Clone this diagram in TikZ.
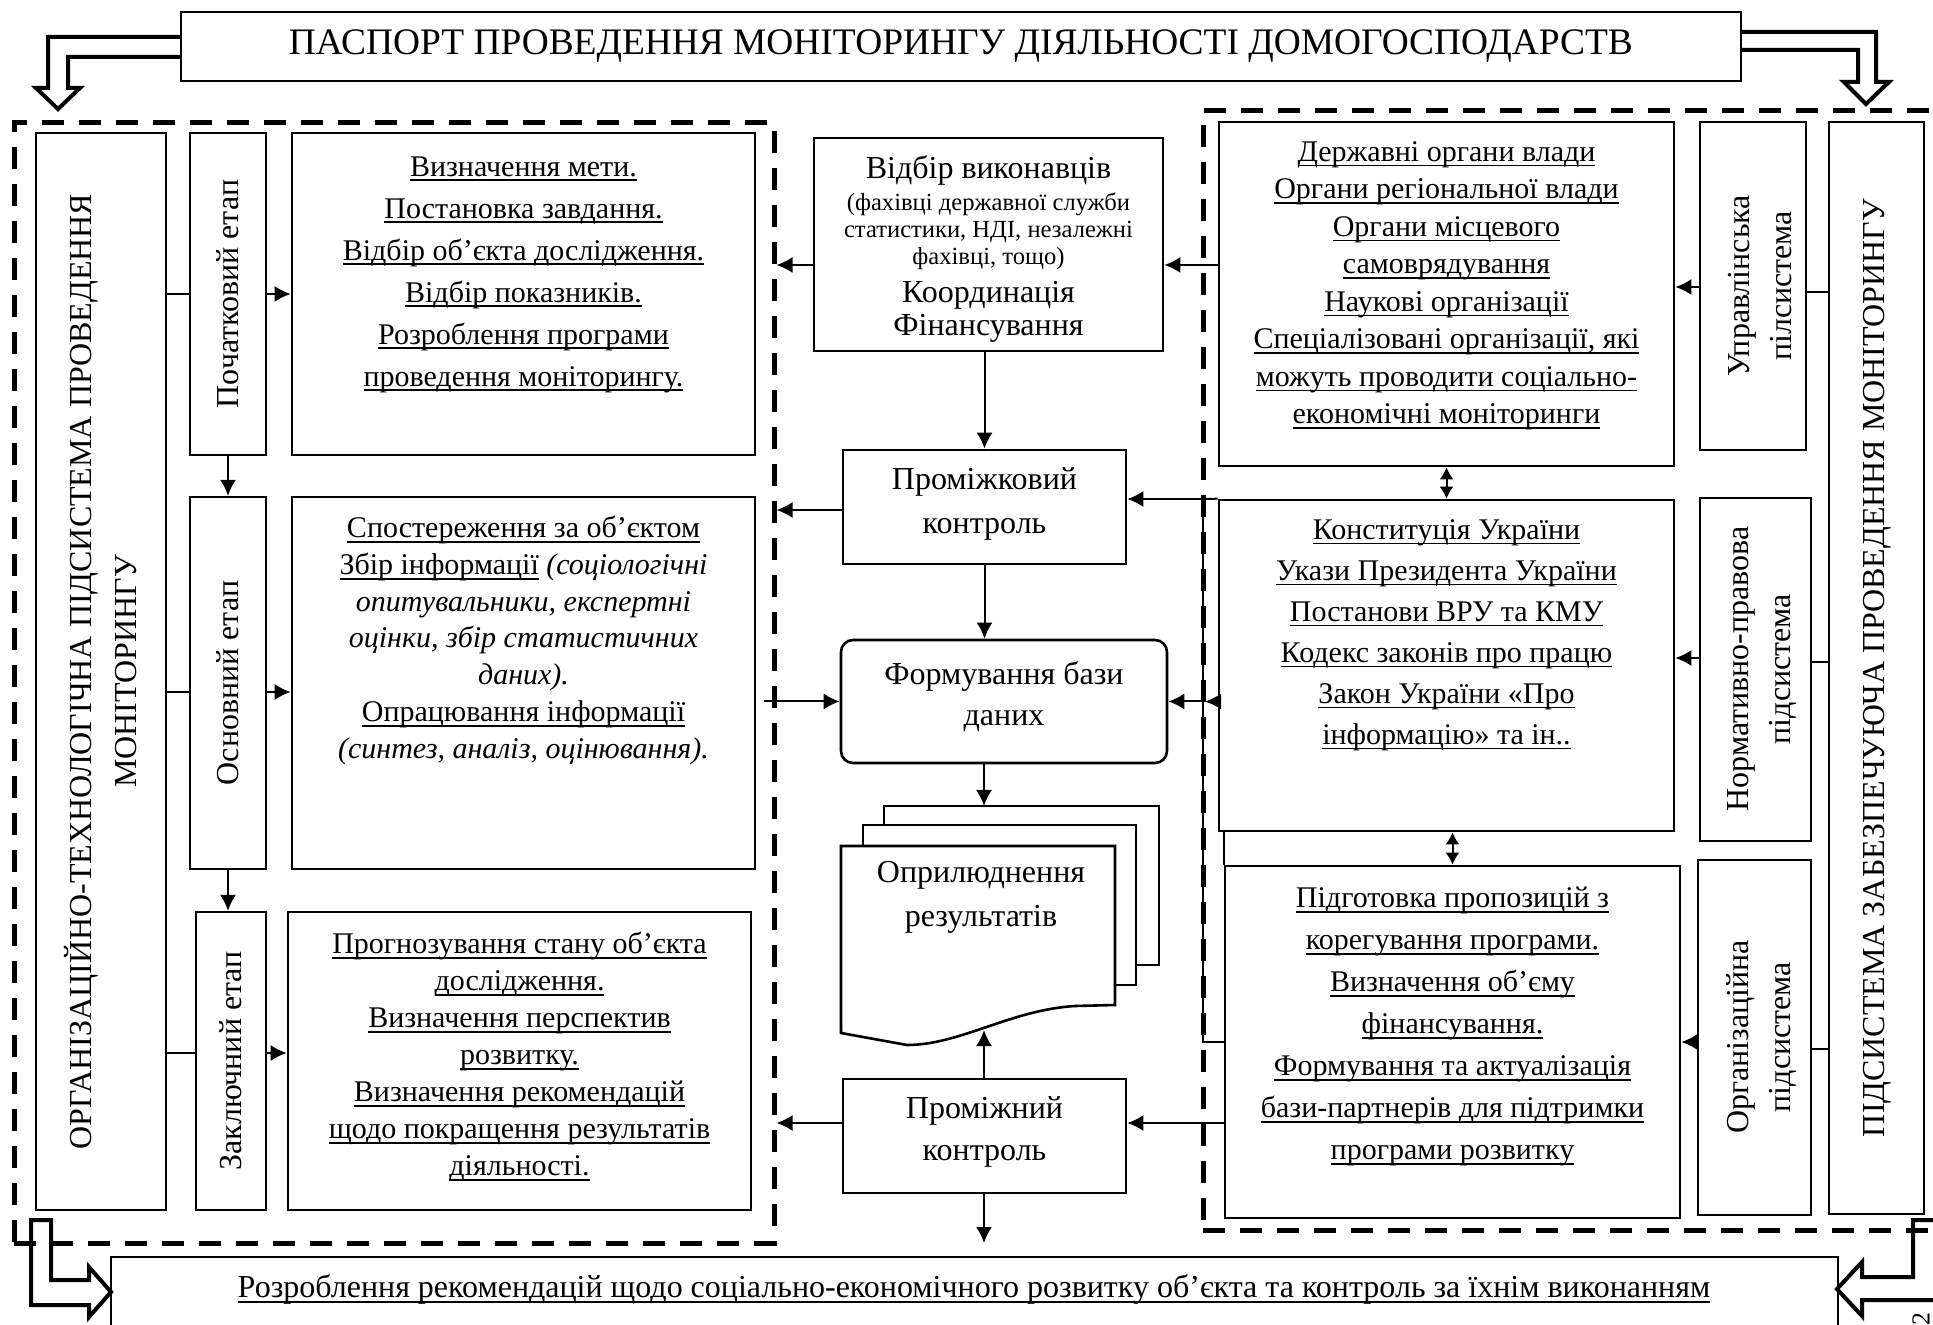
\documentclass[tikz,border=0pt]{standalone}
\usepackage{fontspec}
\setmainfont{Liberation Serif}
\usetikzlibrary{arrows.meta, fit}

% underlined line of text
\newsavebox{\ulnbox}
\newcommand{\uln}[1]{\sbox{\ulnbox}{#1}\rlap{\rule[-2.6pt]{\wd\ulnbox}{0.9pt}}\usebox{\ulnbox}}

\tikzset{
  box/.style    = {draw, line width=1.3pt, inner sep=0pt},
  stage/.style  = {draw, line width=1.1pt, inner sep=0pt},
  group/.style  = {draw, line width=2.5pt, dash pattern=on 11pt off 7.5pt, inner sep=0pt},
  plain/.style  = {line width=1pt},
  link/.style   = {line width=1pt, -{Latex[length=8pt, width=8pt]}},
  twoway/.style = {line width=1pt, {Latex[length=6pt, width=7pt]}-{Latex[length=6pt, width=7pt]}},
  hollow/.style = {line width=2pt, line join=miter},
  body/.style   = {align=center, inner sep=0pt, anchor=north, font=\fontsize{15}{21}\selectfont},
  mid/.style    = {align=center, inner sep=0pt, anchor=north, font=\fontsize{16}{22}\selectfont},
  side/.style   = {align=center, inner sep=0pt, rotate=90, font=\fontsize{16}{21}\selectfont},
}

\begin{document}
\begin{tikzpicture}[x=0.5pt, y=-0.5pt]
\useasboundingbox (0,0) rectangle (1933,1325);

% passport and the two groups
\node[box, fit={(181,12) (1741,81)}] (passport) {};
\node[inner sep=0pt, font=\fontsize{18.7}{20}\selectfont] (passporttxt) at (passport.center)
  {ПАСПОРТ ПРОВЕДЕННЯ МОНІТОРИНГУ ДІЯЛЬНОСТІ ДОМОГОСПОДАРСТВ};
\node[group, fit={(14,123) (774,1243)}] (techgrp) {};
\node[group, fit={(1203,111) (1950,1230)}] (supgrp) {};

% hollow arrows
\draw[hollow] (181,37) -- (48,37) -- (48,88) -- (36,88) -- (58,109) -- (80,88) -- (68,88)
  -- (68,57) -- (181,57);
\draw[hollow] (1741,32) -- (1876,32) -- (1876,82) -- (1889,82) -- (1866,104) -- (1844,82)
  -- (1858,82) -- (1858,50) -- (1741,50);
\draw[hollow] (31,1220) -- (51,1220) -- (51,1280) -- (89,1280) -- (89,1267) -- (111,1292)
  -- (89,1317) -- (89,1305) -- (31,1305) -- cycle;
\draw[hollow] (1940,1220) -- (1913,1220) -- (1913,1277) -- (1862,1277) -- (1862,1262)
  -- (1837,1289) -- (1862,1316) -- (1862,1300) -- (1940,1300);

% organisational and technological subsystem
\node[box, fit={(36,133) (166,1210)}] (orgsys) {};
\node[side, font=\fontsize{16}{22.5}\selectfont] (orgsystxt) at (orgsys.center)
  {ОРГАНІЗАЦІЙНО-ТЕХНОЛОГІЧНА ПІДСИСТЕМА ПРОВЕДЕННЯ\\МОНІТОРИНГУ};
\foreach \stg/\xl/\yt/\yb/\lab/\yc in {start/190/133/455/Початковий етап/294,
    core/190/497/869/Основний етап/692, final/196/912/1210/Заключний етап/1053} {
  \node[stage, fit={(\xl,\yt) (266,\yb)}] (\stg) {};
  \node[side] (\stg-txt) at (\stg.center) {\lab};
  \draw[plain] (orgsys.east |- 0,\yc) -- (\stg.west |- 0,\yc);
}
\draw[link] (start.south) -- (start.south |- core.north);
\draw[link] (core.south) -- (core.south |- final.north);

\node[box, fit={(292,133) (755,455)}] (goal) {};
\node[body] (goaltxt) at (goal.north |- 0,156)
  {\uln{Визначення мети.}\\\uln{Постановка завдання.}\\\uln{Відбір об’єкта дослідження.}\\
   \uln{Відбір показників.}\\\uln{Розроблення програми}\\\uln{проведення моніторингу.}};
\node[box, fit={(292,497) (755,869)}] (observe) {};
\node[body, font=\fontsize{15}{18.35}\selectfont] (observetxt) at (observe.north |- 0,516)
  {\uln{Спостереження за об’єктом}\\\uln{Збір інформації} \textit{(соціологічні}\\
   \textit{опитувальники, експертні}\\\textit{оцінки, збір статистичних}\\\textit{даних).}\\
   \uln{Опрацювання інформації}\\\textit{(синтез, аналіз, оцінювання).}};
\node[box, fit={(288,912) (751,1210)}] (forecast) {};
\node[body, font=\fontsize{15}{18.5}\selectfont] (forecasttxt) at (forecast.north |- 0,932)
  {\uln{Прогнозування стану об’єкта}\\\uln{дослідження.}\\\uln{Визначення перспектив}\\
   \uln{розвитку.}\\\uln{Визначення рекомендацій}\\\uln{щодо покращення результатів}\\
   \uln{діяльності.}};
\draw[link] (start.east |- 0,294) -- (goal.west |- 0,294);
\draw[link] (core.east |- 0,692) -- (observe.west |- 0,692);
\draw[link] (final.east |- 0,1053) -- (forecast.west |- 0,1053);

% centre column
\node[box, fit={(814,138) (1163,351)}] (select) {};
\node[mid] (selecttxt) at (select.north |- 0,155) {Відбір виконавців};
\node[mid, font=\fontsize{12.3}{13.5}\selectfont] (selectnote) at (select.north |- 0,192)
  {(фахівці державної служби\\статистики, НДІ, незалежні\\фахівці, тощо)};
\node[mid, font=\fontsize{16}{16.5}\selectfont] (selectfin) at (select.north |- 0,281)
  {Координація\\Фінансування};
\node[box, fit={(843,450) (1126,564)}] (midctl) {};
\node[mid] (midctltxt) at (midctl.north |- 0,467) {Проміжковий\\контроль};
\node[box, rounded corners=6pt, fit={(841,640) (1167,763)}] (database) {};
\node[mid, font=\fontsize{16}{20.5}\selectfont] (databasetxt) at (database.north |- 0,661)
  {Формування бази\\даних};

% publication: a stack of pages
\draw[box, fill=white] (884,806) rectangle (1159,965);
\draw[box, fill=white] (863,825) rectangle (1136,985);
\draw[box, fill=white] (841,846) -- (1115,846) -- (1115,1005) -- (1075,1006)
  .. controls (1010,1010) and (960,1045) .. (907,1045) -- (841,1033) -- cycle;
\node[mid] (publish) at (981,861) {Оприлюднення\\результатів};
\coordinate (pubtop) at (984,806);
\coordinate (pubbot) at (984,1030);

\node[box, fit={(843,1079) (1126,1193)}] (interim) {};
\node[mid, font=\fontsize{16}{21}\selectfont] (interimtxt) at (interim.north |- 0,1096)
  {Проміжний\\контроль};
\coordinate (outlet) at (984,1243);
\coordinate (dbin) at (764,701.5);

\draw[link] (midctl.north |- select.south) -- (midctl.north);
\draw[link] (midctl.south) -- (midctl.south |- database.north);
\draw[link] (pubtop |- database.south) -- (pubtop);
\draw[link] (interim.north -| pubbot) -- (pubbot);
\draw[link] (interim.south -| outlet) -- (outlet);
\draw[link] (select.west |- 0,265) -- (techgrp.east |- 0,265);
\draw[link] (midctl.west |- 0,510) -- (techgrp.east |- 0,510);
\draw[link] (interim.west |- 0,1123) -- (techgrp.east |- 0,1123);
\draw[link] (dbin) -- (database.west);

% supporting subsystem
\node[box, fit={(1829,122) (1924,1214)}] (support) {};
\node[side, font=\fontsize{16}{20}\selectfont] (supporttxt) at (1877,668)
  {ПІДСИСТЕМА ЗАБЕЗПЕЧУЮЧА ПРОВЕДЕННЯ МОНІТОРИНГУ};

\node[box, fit={(1219,122) (1674,466)}] (bodies) {};
\node[body, font=\fontsize{15}{18.75}\selectfont] (bodiestxt) at (bodies.north |- 0,141)
  {\uln{Державні органи влади}\\\uln{Органи регіональної влади}\\\uln{Органи місцевого}\\
   \uln{самоврядування}\\\uln{Наукові організації}\\\uln{Спеціалізовані організації, які}\\
   \uln{можуть проводити соціально-}\\\uln{економічні моніторинги}};
\node[stage, fit={(1700,122) (1806,450)}] (mgmt) {};
\node[side] (mgmttxt) at (1760,286) {Управлінська\\пілсистема};

\node[box, fit={(1219,500) (1674,831)}] (laws) {};
\node[body, font=\fontsize{15}{20.5}\selectfont] (lawstxt) at (laws.north |- 0,519)
  {\uln{Конституція України}\\\uln{Укази Президента України}\\\uln{Постанови ВРУ та КМУ}\\
   \uln{Кодекс законів про працю}\\\uln{Закон України «Про}\\\uln{інформацію» та ін..}};
\node[stage, fit={(1700,498) (1811,841)}] (legal) {};
\node[side] (legaltxt) at (1762,669) {Нормативно-правова\\підсистема};

\node[box, fit={(1225,866) (1680,1218)}] (proposals) {};
\node[body] (proposalstxt) at (proposals.north |- 0,887)
  {\uln{Підготовка пропозицій з}\\\uln{корегування програми.}\\\uln{Визначення об’єму}\\
   \uln{фінансування.}\\\uln{Формування та актуалізація}\\\uln{бази-партнерів для підтримки}\\
   \uln{програми розвитку}};
\node[stage, fit={(1698,860) (1811,1215)}] (organis) {};
\node[side] (organistxt) at (1762,1037) {Організаційна\\підсистема};

\draw[plain] (support.west |- 0,292) -- (mgmt.east |- 0,292);
\draw[link] (mgmt.west |- 0,287) -- (bodies.east |- 0,287);
\draw[plain] (support.west |- 0,662) -- (legal.east |- 0,662);
\draw[link] (legal.west |- 0,658) -- (laws.east |- 0,658);
\draw[plain] (support.west |- 0,1049) -- (organis.east |- 0,1049);
\draw[link] (organis.west |- 0,1042) -- (proposals.east |- 0,1042);

\draw[twoway] (bodies.south) -- (bodies.south |- laws.north);
\draw[twoway] (proposals.north |- laws.south) -- (proposals.north);
\draw[plain] (proposals.north west) -- (proposals.north west |- laws.south);
\draw[link] (bodies.west |- 0,265) -- (select.east |- 0,265);
\draw[link] (proposals.west |- 0,1042) -- (1203,1042) -- (1203,499) -- (midctl.east |- 0,499);
\draw[plain] (1203,499) -- (laws.north west);
\draw[link] (laws.west |- database.east) -- (1205,701.5);
\draw[link] (1205,701.5) -- (database.east);
\draw[link] (proposals.west |- 0,1123) -- (interim.east |- 0,1123);

% recommendations
\node[box, fit={(111,1257) (1838,1400)}] (recs) {};
\node[mid, font=\fontsize{16}{20}\selectfont] (recstxt) at (974,1274)
  {\uln{Розроблення рекомендацій щодо соціально-економічного розвитку об’єкта та контроль за їхнім виконанням}};
\node[rotate=90, inner sep=0pt, font=\fontsize{13}{13}\selectfont] (pageno) at (1921,1319) {2};

\end{tikzpicture}
\end{document}
